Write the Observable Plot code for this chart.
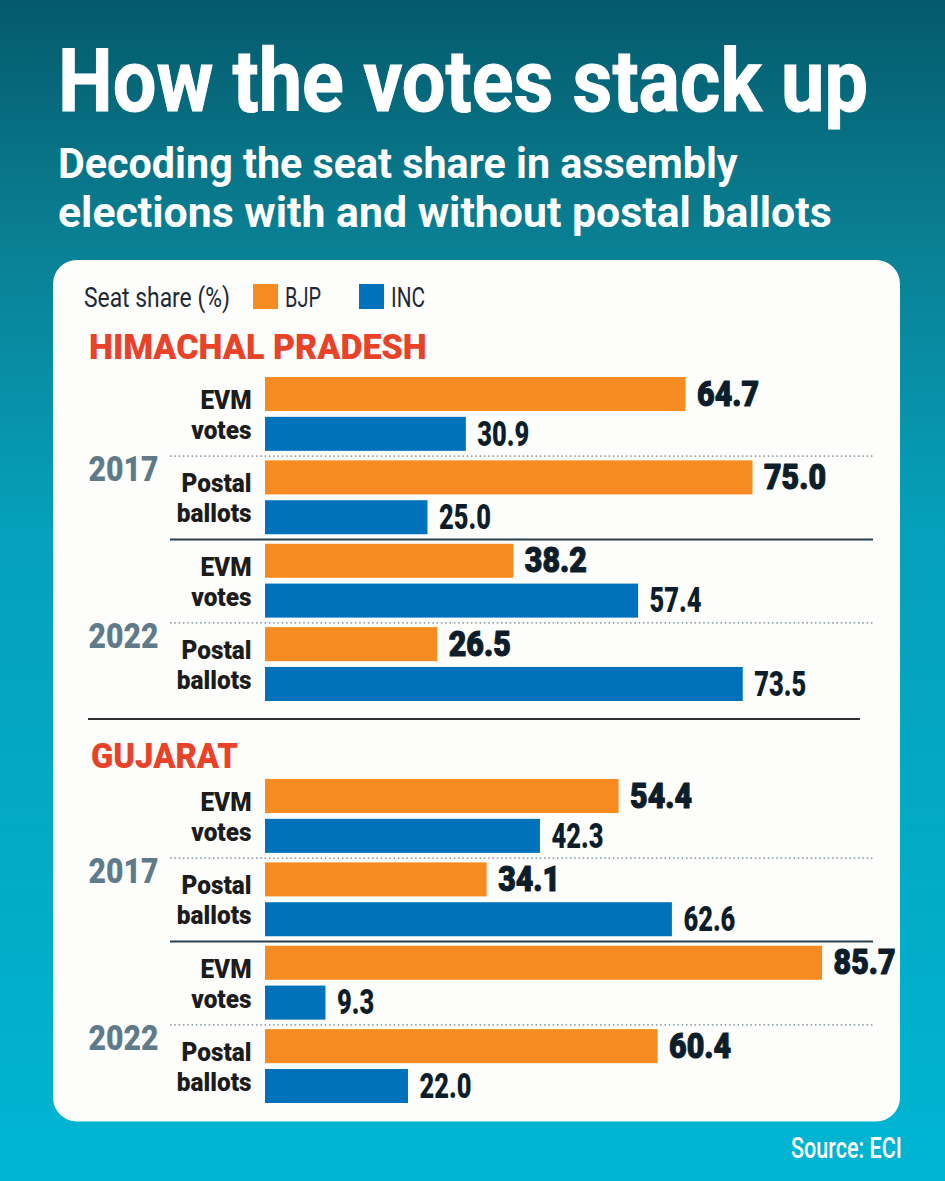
<!DOCTYPE html>
<html><head><meta charset="utf-8">
<script src="https://cdn.jsdelivr.net/npm/d3@7"></script>
<script src="https://cdn.jsdelivr.net/npm/@observablehq/plot@0.6"></script>
<style>
html,body{margin:0;padding:0;}
body{width:945px;height:1181px;position:relative;overflow:hidden;background:#00a6c4;}
</style></head><body>
<script>
// ---- data ----
const title = "How the votes stack up";
const subtitleLines = ["Decoding the seat share in assembly", "elections with and without postal ballots"];
const legendTitle = "Seat share (%)";
const parties = ["BJP", "INC"];
const partyColors = ["#f68c21", "#0072bb"];
const states = ["HIMACHAL PRADESH", "GUJARAT"];
const years = ["2017", "2022"];
const voteTypes = ["EVM\nvotes", "Postal\nballots"];
const hpBJP = [64.7, 75.0, 38.2, 26.5];
const hpINC = [30.9, 25.0, 57.4, 73.5];
const gjBJP = [54.4, 34.1, 85.7, 60.4];
const gjINC = [42.3, 62.6, 9.3, 22.0];
const source = "Source: ECI";

// ---- layout ----
const W = 945, H = 1181;
const FONT = "Roboto,'Liberation Sans',sans-serif";

const bg = d3.select("body").append("svg")
  .attr("width", W).attr("height", H)
  .style("position", "absolute").style("left", "0px").style("top", "0px");
const grad = bg.append("defs").append("linearGradient").attr("id", "bgGrad")
  .attr("x1", 0).attr("y1", 0).attr("x2", 0).attr("y2", 1);
[[0, "#045a6c"], [0.2, "#0a7f93"], [0.45, "#05a0bb"], [1, "#00b5d2"]]
  .forEach(([o, c]) => grad.append("stop").attr("offset", o).attr("stop-color", c));
bg.append("rect").attr("width", W).attr("height", H).attr("fill", "url(#bgGrad)");
bg.append("rect").attr("x", 53).attr("y", 260).attr("width", 847).attr("height", 861.5)
  .attr("rx", 24).attr("fill", "#fdfdfb");

function measure(str, size, weight) {
  const t = bg.append("text").attr("font-size", size).attr("font-weight", weight)
    .attr("font-family", FONT).text(str);
  const w = t.node().getComputedTextLength();
  t.remove();
  return w;
}

function label(txt, x, y, o) {
  const t = bg.append("text")
    .attr("font-size", o.size).attr("font-weight", o.weight || 700)
    .attr("font-family", FONT).attr("fill", o.fill || "#fff")
    .text(txt);
  if (o.stroke) t.attr("stroke", o.fill || "#fff").attr("stroke-width", o.stroke);
  let s = 1;
  if (o.width) s = o.width / t.node().getComputedTextLength();
  t.attr("transform", `translate(${x},${y}) scale(${s},1)`);
  return t;
}

label(title, 58, 111, {size: 87, width: 810, stroke: 1});
label(subtitleLines[0], 58, 178, {size: 43, width: 680});
label(subtitleLines[1], 58, 227, {size: 43, width: 774});

// legend
label(legendTitle, 84, 306.5, {size: 28, weight: 400, fill: "#1d2a36", width: 146});
const legendTextW = [36, 34];
parties.forEach((p, i) => {
  const x0 = 253 + i * 106;
  bg.append("rect").attr("x", x0).attr("y", 284).attr("width", 25).attr("height", 25).attr("fill", partyColors[i]);
  label(p, x0 + 32, 306.5, {size: 28, weight: 400, fill: "#1d2a36", width: legendTextW[i]});
});

// state headings
label(states[0], 89, 359, {size: 35, weight: 900, fill: "#ea4129", width: 338});
label(states[1], 91, 768.3, {size: 35, weight: 900, fill: "#ea4129", width: 147});
bg.append("line").attr("x1", 88).attr("x2", 860).attr("y1", 719).attr("y2", 719)
  .attr("stroke", "#2b2f33").attr("stroke-width", 2);

label(source, 791, 1158, {size: 29, weight: 500, width: 111});

// ---- plots ----
const PH = 384, MT = 30, MB = 30;
const facetPad = 0.114, barPad = 0.146;
const fyStep = (PH - MT - MB) / (4 - facetPad);
const facetGap = fyStep * facetPad;
const fyBand = fyStep * (1 - facetPad);
const yStep = fyBand / (2 - barPad);
const yBand = yStep * (1 - barPad);
const sepDy = -(yBand / 2 + facetGap / 2);

// horizontal condensing factors for the chart's texts (font has no condensed face)
const textFit = {
  "bjp-values": 62 / measure("75.0", 35, 900),
  "inc-values": 52 / measure("25.0", 35, 900),
  "group-labels": 70 / measure("Postal", 26, 900),
  "year-labels": 70 / measure("2017", 35, 900)
};

function statePlot(bjp, inc, top) {
  const rows = [], groups = [];
  years.forEach((year, yi) => voteTypes.forEach((type, ti) => {
    const k = yi * voteTypes.length + ti;
    const group = year + " " + type;
    groups.push({group, year, type, first: ti === 0, k});
    rows.push({group, party: parties[0], value: bjp[k]});
    rows.push({group, party: parties[1], value: inc[k]});
  }));
  const dotted = groups.filter(g => !g.first);
  const solid = groups.filter(g => g.first && g.k > 0);
  const svg = Plot.plot({
    width: W, height: PH, marginTop: MT, marginBottom: MB, marginLeft: 170, marginRight: 72,
    x: {domain: [0, 100], range: [265, 915], axis: null},
    y: {domain: parties, axis: null, paddingInner: barPad, paddingOuter: 0, round: false},
    fy: {domain: groups.map(g => g.group), axis: null, paddingInner: facetPad, paddingOuter: 0, round: false},
    color: {domain: parties, range: partyColors},
    marks: [
      Plot.ruleY(dotted, {fy: "group", y: () => parties[0], dy: sepDy, stroke: "#8fa2b0", strokeWidth: 1.6, strokeDasharray: "1.5,2.8"}),
      Plot.ruleY(solid, {fy: "group", y: () => parties[0], dy: sepDy, stroke: "#2b3e4e", strokeWidth: 2}),
      Plot.barX(rows, {fy: "group", y: "party", x: "value", fill: "party"}),
      Plot.text(rows.filter(d => d.party === parties[0]), {fy: "group", y: "party", x: "value", text: d => d.value.toFixed(1),
        dx: 11, textAnchor: "start", fontSize: 35, fontWeight: 900, fontFamily: FONT, fill: "#0e1d2a",
        stroke: "#0e1d2a", strokeWidth: 1.1, ariaDescription: "bjp-values"}),
      Plot.text(rows.filter(d => d.party === parties[1]), {fy: "group", y: "party", x: "value", text: d => d.value.toFixed(1),
        dx: 11, textAnchor: "start", fontSize: 35, fontWeight: 900, fontFamily: FONT, fill: "#0e1d2a", ariaDescription: "inc-values"}),
      Plot.text(groups, {fy: "group", x: () => 0, text: "type", dx: -14, textAnchor: "end", fontSize: 26,
        fontWeight: 900, fontFamily: FONT, lineHeight: 1.154, fill: "#1c1c1c", ariaDescription: "group-labels"}),
      Plot.text(dotted, {fy: "group", text: "year", frameAnchor: "top-left", dx: -82, dy: -facetGap / 2,
        textAnchor: "start", fontSize: 35, fontWeight: 900, fontFamily: FONT, fill: "#5f7a89", ariaDescription: "year-labels"})
    ]
  });
  for (const [key, s] of Object.entries(textFit)) {
    svg.querySelectorAll(`g[aria-description="${key}"] text`).forEach(t => {
      const tr = t.getAttribute("transform") || "";
      t.setAttribute("transform", `${tr} scale(${s},1)`);
    });
  }
  svg.style.position = "absolute";
  svg.style.left = "0px";
  svg.style.top = top + "px";
  svg.style.background = "transparent";
  svg.style.overflow = "visible";
  svg.style.maxWidth = "none";
  document.body.appendChild(svg);
}

statePlot(hpBJP, hpINC, 347);
statePlot(gjBJP, gjINC, 749);
</script>
</body></html>
